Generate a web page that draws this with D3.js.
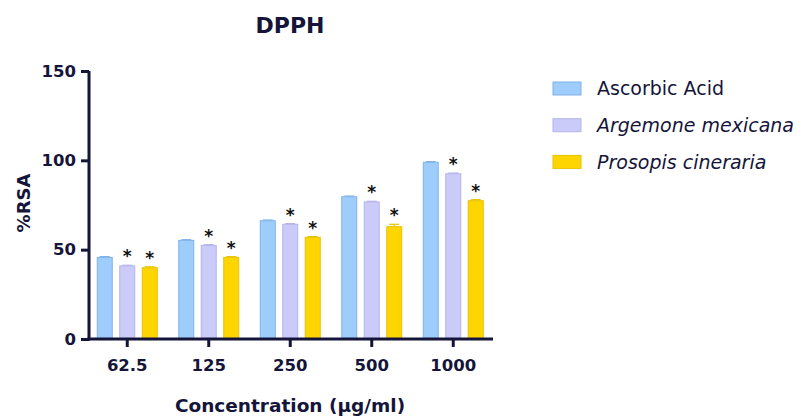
<!DOCTYPE html>
<html>
<head>
<meta charset="utf-8">
<script src="https://cdn.jsdelivr.net/npm/d3@7"></script>
<style>
  body { margin: 0; background: #fff; }
  svg { font-family: "DejaVu Sans", sans-serif; }
  .tick text { font-family: "DejaVu Sans", sans-serif; font-weight: bold; font-size: 16.5px; fill: #15153a; }
</style>
</head>
<body>
<svg></svg>
<script>
const width = 803;
const height = 418;

const concentraciones = ["62.5", "125", "250", "500", "1000"];
const series = ["Ascorbic Acid", "Argemone mexicana", "Prosopis cineraria"];
const ascorbico = [45.7, 55.2, 66.2, 79.6, 98.9];
const argemone = [40.9, 52.4, 64.2, 76.7, 92.5];
const prosopis = [39.9, 45.7, 56.9, 62.9, 77.4];
const errAscorbico = [0.4, 0.4, 0.4, 0.4, 0.4];
const errArgemone = [0.4, 0.4, 0.4, 0.4, 0.4];
const errProsopis = [0.5, 0.4, 0.4, 1.3, 0.6];
// significancia (*) por serie
const signif = [false, true, true];
const yTicks = [0, 50, 100, 150];

const relleno = ["#9fcdfb", "#cbcbfa", "#ffd500"];
const borde = ["#7fb2e8", "#b4b4e8", "#e8c200"];
const ink = "#15153a";

const valores = [ascorbico, argemone, prosopis];
const errores = [errAscorbico, errArgemone, errProsopis];

const svg = d3.select("svg").attr("width", width).attr("height", height);

// Escala X (grupos)
const x = d3.scaleBand()
  .domain(concentraciones)
  .range([86.5, 494])
  .paddingInner(0.172)
  .paddingOuter(0.086);

const xSub = d3.scaleBand()
  .domain(series)
  .range([0, x.bandwidth()])
  .paddingInner(1 / 3)
  .paddingOuter(1 / 6);

// Escala Y
const y = d3.scaleLinear().domain([0, 150]).range([339, 71]);

// Barras
const grupos = svg.append("g")
  .selectAll("g")
  .data(concentraciones)
  .join("g")
  .attr("transform", d => `translate(${x(d)},0)`);

series.forEach((s, si) => {
  grupos.each(function (c, ci) {
    const g = d3.select(this);
    const v = valores[si][ci];
    const e = errores[si][ci];
    const bx = xSub(s);
    const bw = xSub.bandwidth();
    const cx = bx + bw / 2;
    // barra de error
    g.append("line")
      .attr("x1", cx).attr("x2", cx)
      .attr("y1", y(v)).attr("y2", y(v + e))
      .attr("stroke", borde[si]).attr("stroke-width", 1.2);
    g.append("line")
      .attr("x1", cx - 5).attr("x2", cx + 5)
      .attr("y1", y(v + e)).attr("y2", y(v + e))
      .attr("stroke", borde[si]).attr("stroke-width", 1.2);
    g.append("rect")
      .attr("x", bx)
      .attr("y", y(v))
      .attr("width", bw)
      .attr("height", y(0) - y(v))
      .attr("fill", relleno[si])
      .attr("stroke", borde[si])
      .attr("stroke-width", 1);
    if (signif[si]) {
      g.append("text")
        .attr("x", cx)
        .attr("y", y(v + e) - 3)
        .attr("text-anchor", "middle")
        .attr("font-size", 17)
        .attr("font-weight", "bold")
        .attr("fill", "#111")
        .text("*");
    }
  });
});

// Eje Y
const ejeY = svg.append("g")
  .attr("transform", "translate(89,0)")
  .call(d3.axisLeft(y).tickValues(yTicks).tickSize(8).tickPadding(5));
ejeY.select(".domain").attr("stroke", ink).attr("stroke-width", 3)
  .attr("d", `M0,${y(150)}V${y(0) + 1.5}`);
ejeY.selectAll(".tick line").attr("stroke", ink).attr("stroke-width", 3);

// Eje X
const ejeX = svg.append("g")
  .attr("transform", `translate(0,${y(0)})`)
  .call(d3.axisBottom(x).tickSize(8).tickPadding(12));
ejeX.select(".domain").attr("stroke", ink).attr("stroke-width", 3)
  .attr("d", "M87.5,0H493");
ejeX.selectAll(".tick line").attr("stroke", ink).attr("stroke-width", 3);

// Titulo
svg.append("text")
  .attr("x", 290).attr("y", 33)
  .attr("text-anchor", "middle")
  .attr("font-size", 22).attr("font-weight", "bold")
  .attr("fill", ink)
  .text("DPPH");

// Etiqueta eje Y
svg.append("text")
  .attr("transform", "rotate(-90)")
  .attr("x", -203).attr("y", 30)
  .attr("text-anchor", "middle")
  .attr("font-size", 18).attr("font-weight", "bold")
  .attr("fill", ink)
  .text("%RSA");

// Etiqueta eje X
svg.append("text")
  .attr("x", 290).attr("y", 412)
  .attr("text-anchor", "middle")
  .attr("font-size", 18.5).attr("font-weight", "bold")
  .attr("fill", ink)
  .text("Concentration (µg/ml)");

// Leyenda
const leyenda = svg.append("g")
  .selectAll("g")
  .data(series)
  .join("g")
  .attr("transform", (d, i) => `translate(553,${88.5 + i * 36.7})`);
leyenda.append("rect")
  .attr("x", 0).attr("y", -6.5)
  .attr("width", 28).attr("height", 13)
  .attr("fill", (d, i) => relleno[i])
  .attr("stroke", (d, i) => borde[i]);
leyenda.append("text")
  .attr("x", 44).attr("y", 6.8)
  .attr("font-size", 19)
  .attr("font-style", (d, i) => i === 0 ? "normal" : "italic")
  .attr("fill", ink)
  .text(d => d);
</script>
</body>
</html>
